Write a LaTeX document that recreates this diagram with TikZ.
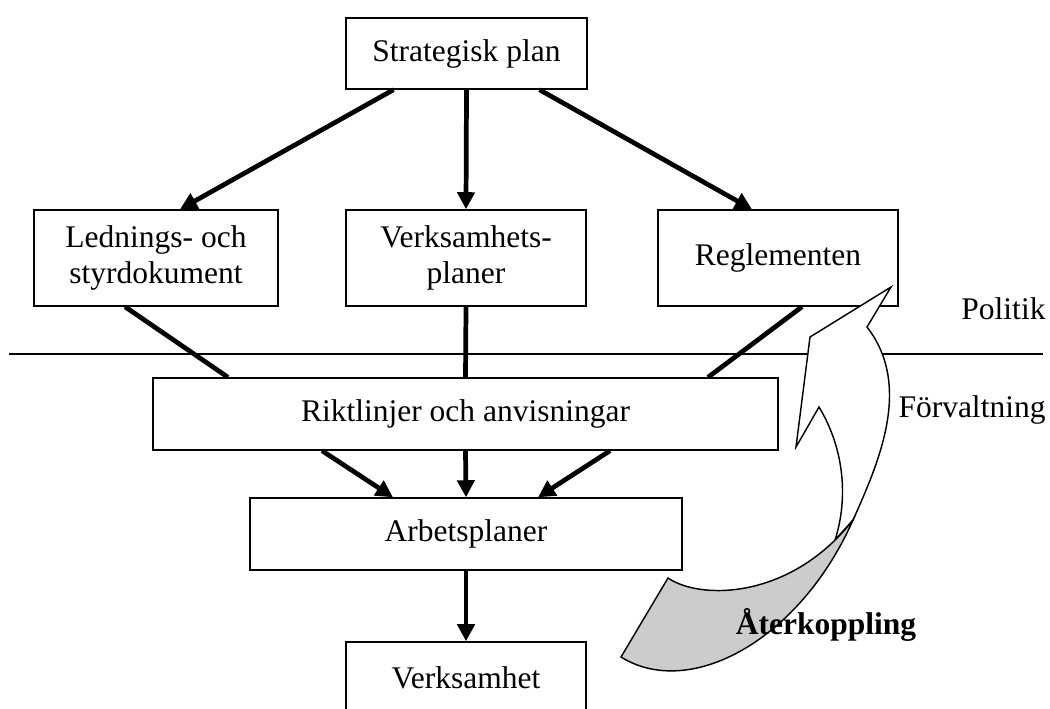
\documentclass[tikz,border=0pt]{standalone}
\usepackage{fontspec}
\setmainfont{Liberation Serif}
\usetikzlibrary{calc,arrows.meta}

\newcommand{\pxu}{0.381pt}

\begin{document}
\begin{tikzpicture}[x=\pxu,y=-\pxu,font=\fontsize{12}{13.8}\selectfont,
  flow/.style={line width=1.8pt,-{Triangle[length=6.5pt,width=6.5pt]}},
  link/.style={line width=1.8pt}]
\clip (0,0) rectangle (1050,708);
\begin{scope}[every node/.style={draw,line width=0.55pt,align=center,inner sep=0pt}]
\node[minimum width=241*\pxu,minimum height=71*\pxu] (strat) at (466.5,53.5) {Strategisk plan};
\node[minimum width=244*\pxu,minimum height=96*\pxu] (led) at (156,258) {Lednings- och\\styrdokument};
\node[minimum width=240*\pxu,minimum height=96*\pxu] (verkp) at (466,258) {Verksamhets-\\planer};
\node[minimum width=240*\pxu,minimum height=96*\pxu] (regl) at (778,258) {Reglementen};
\node[minimum width=625*\pxu,minimum height=72*\pxu] (rikt) at (465.5,414) {Riktlinjer och anvisningar};
\node[minimum width=432*\pxu,minimum height=72*\pxu] (arb) at (466,534) {Arbetsplaner};
\node[minimum width=240*\pxu,minimum height=72*\pxu] (verks) at (466,678) {Verksamhet};
\end{scope}
% skiljelinje
\coordinate (divL) at (9,354);
\coordinate (divR) at (1043,354);
\draw [line width=0.5pt] (divL) -- (divR);
\draw [flow] ($(strat.south)+(-73,0)$) -- ($(led.north)+(24,0)$);
\draw [flow] (strat.south) -- (verkp.north);
\draw [flow] ($(strat.south)+(73,0)$) -- ($(regl.north)+(-26,0)$);
\draw [link] ($(led.south)+(-31,0)$) -- ($(rikt.north)+(-237.5,0)$);
\draw [link] (verkp.south) -- (rikt.north);
\draw [link] ($(regl.south)+(24,0)$) -- ($(rikt.north)+(242.5,0)$);
\draw [flow] ($(rikt.south)+(-143.5,0)$) -- ($(arb.north)+(-73,0)$);
\draw [flow] (rikt.south) -- (arb.north);
\draw [flow] ($(rikt.south)+(144.5,0)$) -- ($(arb.north)+(72,0)$);
\draw [flow] (arb.south) -- (verks.north);
\node[anchor=east,inner sep=0pt] (politik) at (1046,309) {Politik};
\node[anchor=east,inner sep=0pt] (forv) at (1046,410) {Förvaltning};
% böjd pil
\draw [line width=0.55pt,fill=white] (835,540) .. controls (848,500) and (845,450) .. (819,407)
  -- (796,447) -- (810,337) -- (891,287) -- (867,327)
  .. controls (912,385) and (880,460) .. (853,520) -- cycle;
\draw [line width=0.55pt,fill=black!20] (668,578) .. controls (700,600) and (790,600) .. (853,520)
  .. controls (800,640) and (690,700) .. (621,657) -- cycle;
\node[inner sep=0pt,font=\fontsize{12}{13.8}\selectfont\bfseries] (aterk) at (826,625) {Återkoppling};
\end{tikzpicture}
\end{document}
